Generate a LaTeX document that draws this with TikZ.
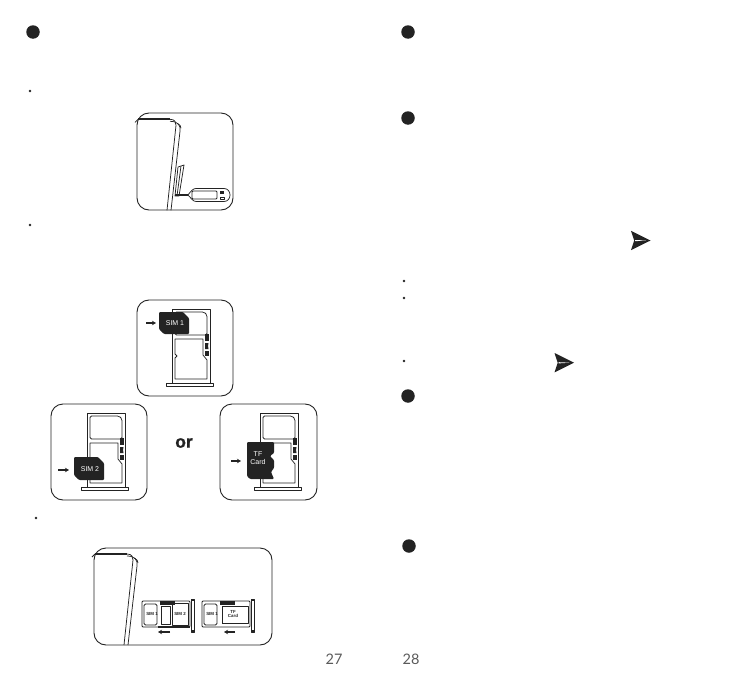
\documentclass[tikz,border=0pt]{standalone}
\usepackage{fontspec}
\setmainfont{Liberation Sans}
\newfontfamily\pagefont{Lato}
\newfontfamily\orfont[FakeBold=1.2]{Liberation Sans Bold}
\usetikzlibrary{arrows.meta}
\definecolor{ink}{RGB}{35,35,35}
\definecolor{pagegray}{RGB}{90,90,90}
\begin{document}
\begin{tikzpicture}[x=1pt,y=-1pt,>=Stealth,line join=round,
  panel/.style={draw=ink,line width=0.9pt,rounded corners=12pt},
  part/.style={draw=ink,line width=0.75pt},
  card/.style={fill=ink,draw=none},
  bigdot/.style={circle,fill=ink,minimum size=13.5pt,inner sep=0pt},
  smalldot/.style={circle,fill=ink,minimum size=2.6pt,inner sep=0pt},
  cardtext/.style={text=white,font=\fontsize{7}{7.5}\selectfont,align=center},
  tinytext/.style={text=ink,font=\fontsize{4.4}{4.8}\selectfont\bfseries,align=center},
  pagenum/.style={text=pagegray,font=\pagefont\fontsize{14.5}{15}\selectfont},
  ortext/.style={text=ink,font=\orfont\fontsize{17.5}{18}\selectfont},
  pusharrow/.style={->,draw=ink,line width=1.2pt,>={Stealth[length=4pt,width=4.5pt]}},
  plane/.pic={
    \fill[ink] (-10,-9.7) -- (9.5,0) -- (-10,9.7) -- (-6.8,0) -- cycle;
    \fill[white] (-6,-0.5) -- (5,0) -- (-6,0.7) -- cycle;
  },
  simtray/.pic={
    \draw[part] (0,-1) -- (38,-1) -- (38,73) -- (0,73) -- cycle;
    \draw[part] (-6,73) rectangle (41,76);
    \draw[part,rounded corners=1.5pt] (3,2) -- (32,2) -- (35,5) -- (35,25) -- (3,25) -- cycle;
    \draw[part] (3,29) -- (31,29) -- (31,45) -- (35,50) -- (35,69) -- (3,69) -- (3,48) -- (5,46) -- (3,44) -- cycle;
    \fill[ink] (33,24) rectangle (37,31);
    \fill[ink] (33,33) -- (36.5,33) -- (36,36) -- (36.5,39) -- (33,39) -- cycle;
    \fill[ink] (33,41) rectangle (37,46);
  },
  phonetop/.pic={
    \draw[ink,line width=1.7pt] (0,0) -- (32,0);
    \draw[part] (-3,3) -- (0,0);
    \draw[part] (32,0) .. controls (37,0) and (38,3) .. (38,6) -- (29,91);
    \draw[part] (32,2) .. controls (40,2) and (43,6) .. (42,12) -- (33,91);
    \draw[part] (39,4) .. controls (42,5) and (43,7) .. (43,9);
  },
  smalltray/.pic={
    \draw[part,rounded corners=1pt] (0,0) -- (48,0) -- (48,26) -- (0,26) -- cycle;
    \draw[part] (49,-2) rectangle (52,31);
    \fill[ink] (49,-2) rectangle (52,0);
    \fill[ink] (49,29) rectangle (52,31);
    \draw[part,rounded corners=1.5pt] (2,3) -- (15,3) -- (15,24) -- (2,24) -- cycle;
    \fill[ink] (18,0) rectangle (33,4);
  }]
\useasboundingbox (0,0) rectangle (748,680);
% round markers
\node[bigdot] (dota) at (33,32) {};
\node[bigdot] (dotb) at (408,32) {};
\node[bigdot] (dotc) at (408,118) {};
\node[bigdot] (dotd) at (408,396) {};
\node[bigdot] (dote) at (409,546) {};
\node[smalldot] (tickaa) at (30,91) {};
\node[smalldot] (tickab) at (30,225) {};
\node[smalldot] (tickac) at (36,518) {};
\node[smalldot] (tickba) at (404,281) {};
\node[smalldot] (tickbb) at (404,298) {};
\node[smalldot] (tickbc) at (404,361) {};
\path (641,240.5) pic {plane};
\path (564.5,362.7) pic {plane};
% panels
\draw[panel] (137,113) rectangle (233,210);
\draw[panel] (137,300) rectangle (233,396);
\draw[panel] (51,404) rectangle (147,500);
\draw[panel] (220,404) rectangle (317,500);
\draw[panel] (94,548) rectangle (272,645);
% eject pin
\path (138,119.3) pic {phonetop};
\draw[part] (178,167) -- (184,165) -- (179,196) -- (175,196) -- cycle;
\draw[part] (181,166) -- (177,196);
\draw[ink,line width=1.2pt] (175,195) -- (188,195);
\draw[part] (188,195) .. controls (191,191) and (193,188.5) .. (196,188.5) -- (224,188.5)
  .. controls (232,188.5) and (232,201.5) .. (224,201.5) -- (196,201.5) .. controls (193,201.5) and (191,198) .. (188,195);
\draw[part,rounded corners=1pt] (192,191) rectangle (217,199);
\fill[ink] (220,191) rectangle (224,194);
\draw[part] (220,197) rectangle (224,199);
% SIM 1 tray
\path (172,310) pic {simtray};
\fill[card,rounded corners=1pt] (159,312) -- (183,312) -- (189,318) -- (189,334) -- (164,334) -- (159,329) -- cycle;
\node[cardtext] (simone) at (175,323) {SIM 1};
\draw[pusharrow] (146,323) -- (156,323);
% SIM 2 tray
\path (87,414) pic {simtray};
\fill[card,rounded corners=1pt] (74,457) -- (98,457) -- (104,463) -- (104,480) -- (79,480) -- (74,475) -- cycle;
\node[cardtext] (simtwo) at (90,469) {SIM 2};
\draw[pusharrow] (58,470) -- (69,470);
% or
\node[ortext] (orword) at (184,443) {or};
% TF tray
\path (260,414) pic {simtray};
\fill[card,rounded corners=1pt] (247,442) -- (274,442) -- (274,453) -- (270,456) -- (274,460) -- (274,468) -- (271,472) -- (274,479) -- (250,479) -- (247,476) -- cycle;
\node[cardtext] (tfcard) at (258,458) {TF\\Card};
\draw[pusharrow] (231,461) -- (241,461);
% inserted trays
\path (95,554) pic {phonetop};
\path (142,601) pic {smalltray};
\draw[part] (161,606) -- (170,606) -- (170,624) -- (161,624) -- cycle;
\draw[part] (172,603) rectangle (188,625);
\draw[ink,line width=1.4pt] (158,627) -- (190,627);
\node[tinytext] (traysimone) at (152,614) {SIM 1};
\node[tinytext] (traysimtwo) at (180,614) {SIM 2};
\draw[pusharrow] (170,632) -- (158,632);
\path (202,601) pic {smalltray};
\draw[part] (222,606) rectangle (248,623);
\draw[ink,line width=1pt] (222,623) -- (248,623);
\node[tinytext] (traysimthree) at (212,614) {SIM 1};
\node[tinytext] (traytf) at (233,614) {TF\\Card};
\draw[pusharrow] (235,632) -- (224,632);
% page numbers
\node[pagenum] (pagea) at (334,659) {27};
\node[pagenum] (pageb) at (411,659) {28};
\end{tikzpicture}
\end{document}
